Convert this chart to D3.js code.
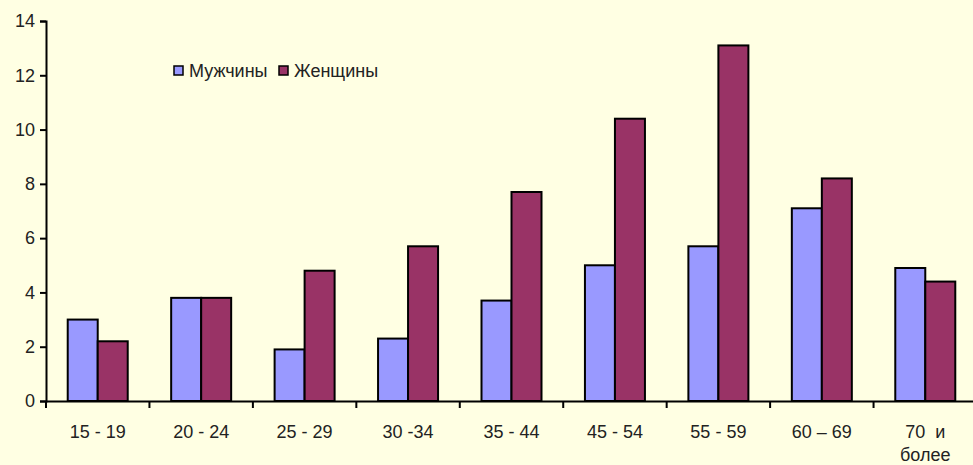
<!DOCTYPE html>
<html><head><meta charset="utf-8">
<script src="https://cdn.jsdelivr.net/npm/d3@7"></script>
<style>html,body{margin:0;padding:0;background:#FFFFE3;}svg{display:block;}</style>
</head><body>
<script>
const categories = ["15 - 19","20 - 24","25 - 29","30 -34","35 - 44","45 - 54","55 - 59","60 – 69","70  и|более"];
const men   = [3.0, 3.8, 1.9, 2.3, 3.7, 5.0, 5.7, 7.1, 4.9];
const women = [2.2, 3.8, 4.8, 5.7, 7.7, 10.4, 13.1, 8.2, 4.4];
const seriesNames = ["Мужчины","Женщины"];
const colors = ["#9999FF","#993366"];
const yTicks = [0,2,4,6,8,10,12,14];

const W = 973, H = 465;
const m = {left:46, right:-4, top:21, bottom:64};
const svg = d3.select("body").append("svg").attr("width",W).attr("height",H);
svg.append("rect").attr("width",W).attr("height",H).attr("fill","#FFFFE3");

const x = d3.scaleBand().domain(categories).range([m.left, W - m.right]).paddingInner(0).paddingOuter(0);
const y = d3.scaleLinear().domain([0,14]).range([H - m.bottom, m.top]);
const barW = 30;
const font = "'Liberation Sans', Arial, sans-serif";
const fs = 18;

// bars
[men, women].forEach((vals, si) => {
  svg.append("g").selectAll("rect").data(categories).join("rect")
    .attr("x", (c) => x(c) + x.bandwidth()/2 - barW + si*barW)
    .attr("y", (c,i) => y(vals[i]))
    .attr("width", barW)
    .attr("height", (c,i) => y(0) - y(vals[i]))
    .attr("fill", colors[si])
    .attr("stroke", "#000").attr("stroke-width", 2);
});

// y axis
const yAxis = svg.append("g").attr("transform",`translate(${m.left},0)`)
  .call(d3.axisLeft(y).tickValues(yTicks).tickSize(6).tickPadding(5).tickFormat(d3.format("d")));
yAxis.select(".domain").attr("stroke","#000").attr("stroke-width",2);
yAxis.selectAll(".tick line").attr("stroke","#000").attr("stroke-width",2);
yAxis.selectAll("text").attr("font-family",font).attr("font-size",fs).attr("fill","#222");

// x axis
const xAxis = svg.append("g").attr("transform",`translate(0,${y(0)})`)
  .call(d3.axisBottom(x).tickSize(0).tickFormat(""));
xAxis.select(".domain").attr("stroke","#000").attr("stroke-width",2);
xAxis.selectAll(".tick line").remove();
// boundary ticks
svg.append("g").selectAll("line").data(categories).join("line")
  .attr("x1", c => x(c)).attr("x2", c => x(c))
  .attr("y1", y(0)).attr("y2", y(0)+7)
  .attr("stroke","#000").attr("stroke-width",2);
// category labels
const lab = svg.append("g").selectAll("text").data(categories).join("text")
  .attr("x", c => x(c) + x.bandwidth()/2)
  .attr("y", y(0) + 37)
  .attr("text-anchor","middle")
  .attr("font-family",font).attr("font-size",fs).attr("fill","#222")
  .style("white-space","pre");
lab.each(function(c){
  const parts = c.split("|");
  const t = d3.select(this);
  parts.forEach((p,i) => t.append("tspan").attr("x", x(c) + x.bandwidth()/2).attr("dy", i ? 23 : 0).text(p));
});

// legend
const leg = svg.append("g");
const legX = [174, 279];
seriesNames.forEach((n,i) => {
  leg.append("rect").attr("x",legX[i]).attr("y",66).attr("width",9).attr("height",9)
    .attr("fill",colors[i]).attr("stroke","#000").attr("stroke-width",1.5);
  leg.append("text").attr("x",legX[i]+15).attr("y",77)
    .attr("font-family",font).attr("font-size",fs).attr("fill","#222").text(n);
});
</script>
</body></html>
